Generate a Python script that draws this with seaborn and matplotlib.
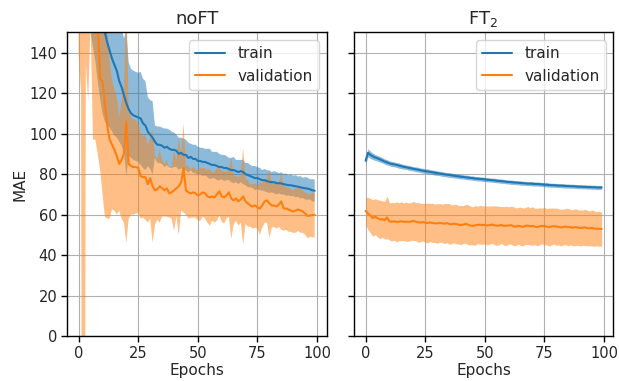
import numpy as np
import pandas as pd
import seaborn as sns
import matplotlib
matplotlib.use("Agg")
import matplotlib.pyplot as plt

epochs = list(range(100))

# noFT run: mean and std of MAE per epoch
noft_train_mean = [
    260, 245, 232, 220, 210, 198, 188, 178, 170, 163,
    156, 150, 145, 141, 137, 134, 131, 126, 123, 119,
    115, 112, 110, 109, 108.5, 108, 107.5, 105, 104, 101,
    99.5, 98, 96, 94.5, 94.5, 94, 93, 93.5, 92.5, 92,
    92, 91.5, 90, 90.5, 89.5, 89.5, 88, 88.5, 87.5, 87.5,
    86.5, 86.5, 86, 86, 85.5, 85, 84.5, 84.5, 84, 83.5,
    83.5, 83, 83, 82.5, 82, 82, 81.5, 81, 81.5, 81,
    80, 79.5, 79, 78.5, 78, 78, 77.5, 77, 77, 76.5,
    76.2, 76, 76, 75.5, 75.5, 75.4, 75, 74.8, 74.5, 74.5,
    74.2, 74, 73.8, 73.5, 73.2, 73, 72.8, 72.5, 72, 71.8,
]
noft_train_sd = [
    60, 58, 55, 52, 50, 48, 45, 42, 44, 46,
    46, 44, 41, 38, 36, 35, 33, 30, 29, 28,
    36, 23, 22, 22, 22, 22, 23, 22, 22, 17,
    17, 18, 8, 9, 9, 9, 9.5, 9, 9.5, 9,
    8.5, 8, 8, 7.5, 8, 7.5, 7.5, 6.5, 7, 7,
    7, 6.5, 7, 6.5, 7, 7.5, 6.5, 6.5, 7, 6.5,
    6, 6.5, 6, 5.5, 6, 6.5, 5.5, 6, 5.5, 6,
    5.5, 6, 5.5, 5.5, 6, 5.5, 5.5, 5, 5.5, 5.5,
    5.5, 5, 5.5, 5.5, 5, 5.5, 5, 5.5, 5, 5.5,
    5, 5.5, 5, 5.5, 5, 5.5, 5.5, 5, 5.5, 5.5,
]
noft_val_mean = [
    230, 250, 300, 230, 235, 205, 200, 182, 158, 127,
    126, 115, 104, 97, 94.5, 92, 89, 85, 87, 90,
    106, 85, 84, 83.5, 83.5, 83, 79, 78.5, 78.5, 75,
    78, 74, 72, 72.5, 74, 73, 72, 73, 70.5, 71,
    72, 73, 74, 76, 83, 72, 71, 70.5, 71, 70.5,
    69.5, 70, 71, 70.5, 69, 68.5, 69, 68.5, 70, 71.5,
    69, 68.5, 69.5, 71, 68, 67, 68, 66.5, 67.5, 69,
    66.5, 65.5, 64.5, 64, 64.5, 63.5, 63, 64.5, 66.5, 67,
    65.5, 64.5, 64.5, 64, 65, 66.5, 63, 63, 62.5, 62,
    61.5, 62, 62.5, 62, 61.5, 60.5, 59.3, 59.5, 59.8, 59.8,
]
noft_val_sd = [
    90, 129, 800, 95, 119, 50, 103, 85, 68, 45,
    56, 56, 46, 39, 32, 30, 29, 23, 29, 34,
    60, 27, 24, 23.5, 23, 22, 21, 20, 21, 19,
    20, 28, 17, 15, 18, 14, 13, 14, 12, 13,
    20, 14, 24, 14, 22, 12, 13, 12, 12.5, 12,
    12.5, 13, 12, 12.5, 13, 14, 12, 12.5, 13, 12,
    12.5, 13, 11.5, 12, 20, 12, 11, 12, 11.5, 24,
    11, 11.5, 10.5, 11, 11, 10.5, 13, 11, 10.5, 11,
    17, 11, 10.5, 11, 11, 14, 11, 10.5, 11, 10.5,
    10.5, 11, 10.5, 11, 10.5, 10.5, 11, 10.5, 11, 11,
]

# FT_2 run
ft2_train_mean = [
    86.6, 90.5, 89.5, 88.8, 88.2, 87.8, 87.3, 86.8, 86.2, 85.8,
    85.3, 85.0, 84.8, 84.5, 84.2, 83.9, 83.6, 83.4, 83.1, 82.9,
    82.6, 82.4, 82.2, 81.9, 81.7, 81.5, 81.3, 81.1, 80.9, 80.7,
    80.5, 80.3, 80.1, 79.9, 79.7, 79.6, 79.4, 79.2, 79.0, 78.9,
    78.7, 78.6, 78.4, 78.3, 78.1, 78.0, 77.8, 77.7, 77.6, 77.5,
    77.4, 77.2, 77.1, 77.0, 76.9, 76.7, 76.6, 76.5, 76.4, 76.2,
    76.1, 76.0, 75.9, 75.8, 75.7, 75.6, 75.5, 75.4, 75.3, 75.3,
    75.2, 75.1, 75.1, 75.0, 74.9, 74.8, 74.7, 74.6, 74.5, 74.5,
    74.4, 74.3, 74.3, 74.2, 74.1, 74.1, 74.0, 74.0, 73.9, 73.8,
    73.8, 73.7, 73.7, 73.6, 73.6, 73.5, 73.5, 73.4, 73.4, 73.4,
]
ft2_train_sd = [
    1.5, 2.0, 1.8, 1.6, 1.5, 1.4, 1.4, 1.3, 1.3, 1.3,
    1.2, 1.3, 1.2, 1.2, 1.3, 1.2, 1.2, 1.1, 1.2, 1.2,
    1.1, 1.2, 1.2, 1.1, 1.2, 1.1, 1.2, 1.1, 1.1, 1.2,
    1.1, 1.1, 1.2, 1.1, 1.1, 1.2, 1.1, 1.1, 1.0, 1.1,
    1.1, 1.0, 1.1, 1.1, 1.0, 1.1, 1.0, 1.1, 1.0, 1.1,
    1.0, 1.1, 1.0, 1.0, 1.1, 1.0, 1.0, 1.1, 1.0, 1.0,
    1.0, 1.1, 1.0, 1.0, 1.0, 1.1, 1.0, 1.0, 1.0, 1.0,
    1.1, 1.0, 1.0, 1.0, 1.0, 1.0, 1.1, 1.0, 1.0, 1.0,
    1.0, 1.0, 1.0, 1.1, 1.0, 1.0, 1.0, 1.0, 1.0, 1.0,
    1.0, 1.0, 1.0, 1.0, 1.0, 1.0, 1.0, 1.0, 1.0, 1.0,
]
ft2_val_mean = [
    61.8, 60.5, 59.5, 58.3, 59.0, 58.2, 57.6, 57.8, 57.2, 58.6,
    56.6, 56.5, 56.6, 56.4, 56.5, 56.7, 56.4, 56.5, 56.3, 56.6,
    56.9, 56.5, 56.2, 56.0, 56.3, 56.0, 55.8, 56.1, 55.9, 55.7,
    55.6, 55.9, 55.7, 55.5, 55.8, 55.4, 55.2, 55.5, 55.3, 55.0,
    54.8, 55.1, 55.4, 55.0, 54.6, 54.4, 54.7, 54.9, 55.0, 54.8,
    54.9, 54.6, 54.8, 55.1, 54.7, 54.5, 54.6, 54.9, 54.4, 54.5,
    54.6, 54.8, 54.3, 54.0, 54.5, 54.2, 53.9, 54.4, 54.6, 54.2,
    54.4, 54.1, 53.8, 54.2, 54.4, 54.3, 54.0, 53.8, 54.1, 54.3,
    54.0, 53.9, 53.6, 53.9, 54.1, 53.8, 53.7, 53.5, 53.8, 53.6,
    53.4, 53.5, 53.7, 53.3, 53.2, 53.4, 53.1, 53.0, 53.0, 52.9,
]
ft2_val_sd = [
    6.5, 8, 8.5, 9, 8.8, 9.2, 9.5, 9, 9.3, 10.5,
    9.2, 9.5, 9.3, 9.8, 9.4, 9.6, 9.2, 9.7, 9.5, 9.3,
    9.6, 9.4, 9.8, 9.5, 9.2, 9.6, 9.9, 9.4, 9.7, 9.5,
    9.8, 9.6, 9.4, 9.9, 9.7, 10, 9.6, 9.4, 9.8, 9.5,
    9.7, 9.3, 9.6, 9.9, 9.5, 9.4, 9.8, 9.2, 9.6, 9.5,
    9.3, 9.7, 9.4, 9.2, 9.6, 9.8, 9.4, 9.1, 9.5, 9.7,
    9.2, 9.4, 9.6, 9.3, 9.0, 9.5, 9.3, 9.1, 9.4, 9.2,
    9.5, 9.0, 9.3, 9.1, 8.8, 9.2, 9.0, 9.4, 9.1, 8.9,
    9.2, 8.9, 9.1, 8.8, 9.0, 9.2, 8.7, 8.9, 9.1, 8.8,
    8.9, 8.7, 9.0, 8.8, 8.6, 8.9, 8.7, 8.5, 8.6, 8.4,
]

titles = ["noFT", "FT$_2$"]
series_names = ["train", "validation"]
colors = ["#1f77b4", "#ff7f0e"]

sns.set_theme(context="notebook", style="whitegrid", rc={
    "axes.edgecolor": "black",
    "axes.linewidth": 1.0,
    "axes.labelpad": 1.5,
    "grid.color": "#b0b0b0",
    "grid.linewidth": 0.8,
    "xtick.bottom": True,
    "ytick.left": True,
    "xtick.major.size": 4,
    "ytick.major.size": 4,
    "xtick.major.width": 1,
    "ytick.major.width": 1,
    "xtick.major.pad": 3,
    "ytick.major.pad": 3,
    "xtick.color": "black",
    "ytick.color": "black",
    "xtick.labelcolor": ".15",
    "ytick.labelcolor": ".15",
    "xtick.labelsize": 10.5,
    "ytick.labelsize": 10.5,
    "axes.labelsize": 11,
    "axes.titlesize": 13,
    "legend.fontsize": 11,
})

fig, axes = plt.subplots(1, 2, figsize=(6.19, 3.81), dpi=100, sharey=True)
fig.subplots_adjust(left=0.108, right=0.991, bottom=0.118, top=0.915, wspace=0.105)

panels = [
    (noft_train_mean, noft_train_sd, noft_val_mean, noft_val_sd),
    (ft2_train_mean, ft2_train_sd, ft2_val_mean, ft2_val_sd),
]

for ax, title, (tr_m, tr_s, va_m, va_s) in zip(axes, titles, panels):
    df = pd.DataFrame({
        "epoch": epochs,
        "train": tr_m, "train_sd": tr_s,
        "validation": va_m, "validation_sd": va_s,
    })
    # bands first, then the mean lines on top
    for name, c in zip(series_names, colors):
        m = df[name].to_numpy()
        s = df[name + "_sd"].to_numpy()
        ax.fill_between(df["epoch"], m - s, m + s, color=c, alpha=0.5, lw=0)
    for name, c in zip(series_names, colors):
        sns.lineplot(data=df, x="epoch", y=name, ax=ax, color=c, lw=1.5, label=name)
    ax.set_title(title)
    ax.set_xlabel("Epochs")
    ax.set_ylabel("MAE")
    ax.set_ylim(0, 150)
    ax.set_xticks([0, 25, 50, 75, 100])
    ax.set_yticks(list(range(0, 141, 20)))
    ax.legend(loc="upper right")
    for sp in ax.spines.values():
        sp.set_visible(True)

axes[1].set_ylabel("")
fig.savefig("out.png", dpi=100)
